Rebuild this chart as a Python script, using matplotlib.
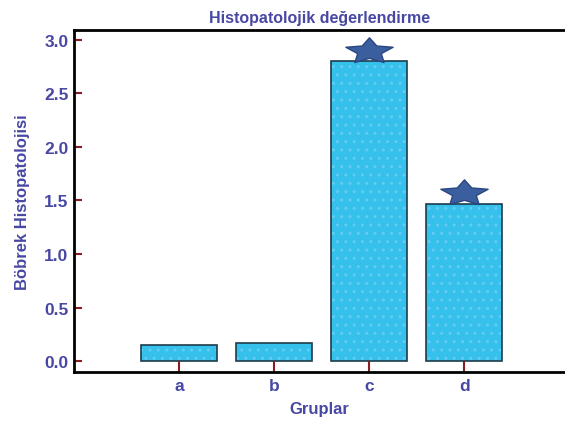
import matplotlib
matplotlib.use('Agg')
import matplotlib.pyplot as plt
from matplotlib.markers import MarkerStyle
from matplotlib.path import Path
from matplotlib.transforms import Affine2D

groups = ['a', 'b', 'c', 'd']
values = [0.15, 0.17, 2.80, 1.47]
starred = ['c', 'd']
yticks = [0.0, 0.5, 1.0, 1.5, 2.0, 2.5, 3.0]

text_col = '#4848a4'
bar_col = '#36c0ec'
dot_col = '#62cdf1'
tick_col = '#8a1c22'
star_col = '#3b5f9e'

plt.rcParams['font.family'] = ['Liberation Sans', 'DejaVu Sans']

fig = plt.figure(figsize=(5.65, 4.27), dpi=100)
ax = fig.add_axes([74 / 565, 1 - 373 / 427, 1 - 74 / 565, (373 - 31) / 427])

x = list(range(len(groups)))
# fill with light dots, then dark outline on top
plt.rcParams['hatch.color'] = dot_col
plt.rcParams['hatch.linewidth'] = 1.0
ax.bar(x, values, width=0.8, color=bar_col, hatch='..', linewidth=0, edgecolor=dot_col)
ax.bar(x, values, width=0.8, fill=False, edgecolor='#1d3c4c', linewidth=1.2)

# wide, chunky star above the significant groups
star_path = Path.unit_regular_star(5, 0.5).transformed(Affine2D().scale(1.0, 0.55))
star = MarkerStyle(star_path)
for g, v in zip(groups, values):
    if g in starred:
        ax.plot(groups.index(g), v + 0.095, marker=star, markersize=34,
                color=star_col, markeredgecolor='#2a4680', markeredgewidth=1,
                zorder=5, clip_on=False)

ax.set_xlim(-1.105, 4.06)
ax.set_ylim(-0.1, 3.09)
ax.set_xticks(x)
ax.set_xticklabels(groups)
ax.set_yticks(yticks)
ax.set_yticklabels([f'{t:.1f}' for t in yticks])

ax.tick_params(axis='y', direction='in', length=6, width=1.5, color=tick_col,
               labelcolor=text_col, labelsize=12.5, pad=4)
ax.tick_params(axis='x', direction='in', length=8, width=1.5, color=tick_col,
               labelcolor=text_col, labelsize=12.5, pad=4)
for lab in ax.get_xticklabels() + ax.get_yticklabels():
    lab.set_fontweight('bold')

for s in ['left', 'bottom', 'top']:
    ax.spines[s].set_linewidth(2)
    ax.spines[s].set_color('black')
ax.spines['right'].set_visible(False)

ax.set_title('Histopatolojik değerlendirme', color=text_col, fontsize=11.5,
             fontweight='bold', pad=6)
ax.set_xlabel('Gruplar', color=text_col, fontsize=12, fontweight='bold', labelpad=6)
ax.set_ylabel('Böbrek Histopatolojisi', color=text_col, fontsize=12,
              fontweight='bold', labelpad=10)

fig.savefig('out.png', dpi=100)
